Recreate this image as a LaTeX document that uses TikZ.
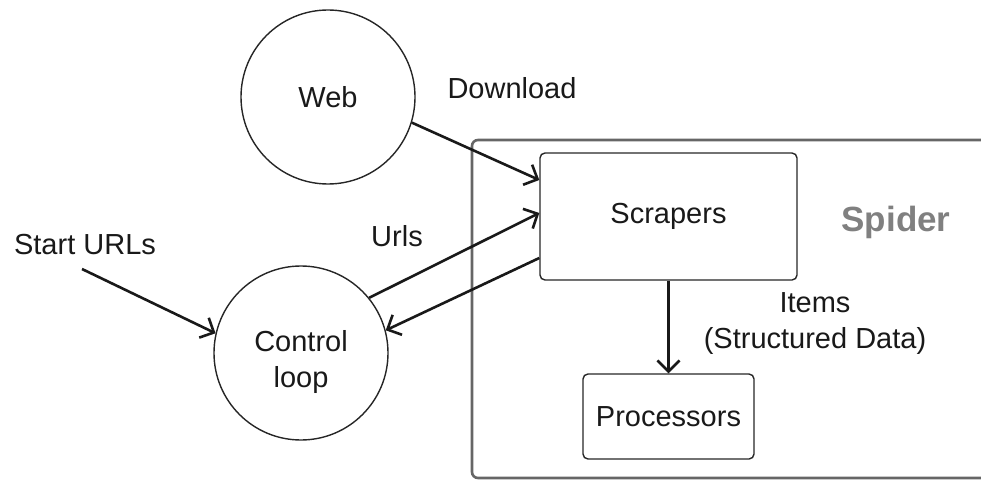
\documentclass[tikz,border=0pt]{standalone}
\usepackage{fontspec}
\setmainfont{Liberation Sans}
\usetikzlibrary{arrows.meta}
\begin{document}
\begin{tikzpicture}[x=1pt,y=-1pt,
  lbl/.style={font=\fontsize{29}{36}\selectfont, text=black!90, inner sep=0pt, align=center},
  blob/.style={circle, draw=black!85, line width=1.4pt, minimum size=174pt, inner sep=0pt, lbl},
  block/.style={draw=black!85, line width=1.4pt, rounded corners=5pt, inner sep=0pt, lbl},
  flow/.style={line width=2.6pt, black!90, -{Straight Barb[length=11pt,width=22pt,line width=2.6pt]}},
  frame/.style={draw=black!60, line width=2.6pt, rounded corners=6pt}]
\useasboundingbox (0,0) rectangle (981,481);

% spider frame, open on the right
\draw[frame] (990,140) -- (472,140) -- (472,478) -- (990,478);
\node[font=\fontsize{35}{40}\selectfont\bfseries, text=black!50, inner sep=0pt] (spider) at (896,222) {Spider};

% components
\node[blob] (web) at (328,97) {Web};
\node[blob] (ctrl) at (301,353) {};
\node[lbl] (ctrltext) at (301,362) {Control\\loop};
\node[block, minimum width=257pt, minimum height=127pt] (scrapers) at (668.5,216.5) {Scrapers};
\node[block, minimum width=171pt, minimum height=85pt] (procs) at (668.5,416.5) {Processors};

% labels
\node[lbl] (dl) at (512,88) {Download};
\node[lbl] (start) at (85,245) {Start URLs};
\node[lbl] (urls) at (397,236) {Urls};
\node[lbl] (items) at (815,324) {Items\\(Structured Data)};

% connectors
\coordinate (s0) at (82,269);
\draw[flow] (web.-17) -- ([yshift=36.5pt]scrapers.west);
\draw[flow] (ctrl.39) -- ([yshift=3.5pt]scrapers.west);
\draw[flow] ([yshift=-41.5pt]scrapers.west) -- (ctrl.15);
\draw[flow] (s0) -- (ctrl.167);
\draw[flow] (scrapers.south) -- (procs.north);
\end{tikzpicture}
\end{document}
